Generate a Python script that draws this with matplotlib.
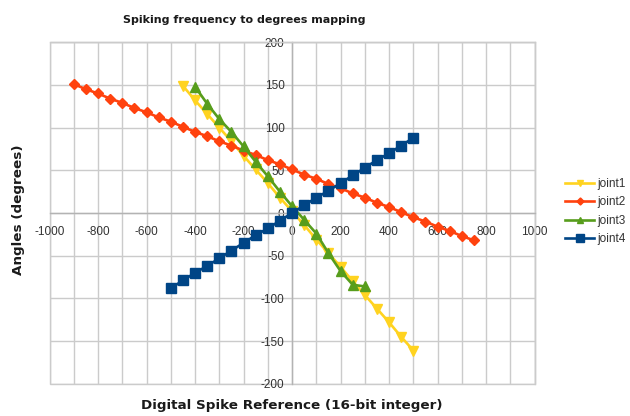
import matplotlib
matplotlib.use("Agg")
import matplotlib.pyplot as plt
from matplotlib.ticker import MultipleLocator

plt.rcParams["axes.unicode_minus"] = False
plt.rcParams["font.family"] = ["Liberation Sans", "DejaVu Sans"]

# Digital spike reference values for each joint
joint1_x = [-450, -400, -350, -300, -250, -200, -150, -100, -50, 0,
            50, 100, 150, 200, 250, 300, 350, 400, 450, 500]
joint1_y = [149, 132, 116, 100, 84, 67, 51, 35, 18, 2,
            -14, -31, -47, -63, -80, -96, -112, -128, -145, -161]

joint2_x = [-900, -850, -800, -750, -700, -650, -600, -550, -500, -450,
            -400, -350, -300, -250, -200, -150, -100, -50, 0, 50,
            100, 150, 200, 250, 300, 350, 400, 450, 500, 550,
            600, 650, 700, 750]
joint2_y = [151, 145, 140, 134, 129, 123, 118, 112, 107, 101,
            95, 90, 84, 79, 73, 68, 62, 57, 51, 45,
            40, 34, 29, 23, 18, 12, 7, 1, -5, -10,
            -16, -21, -27, -32]

joint3_x = [-400, -350, -300, -250, -200, -150, -100, -50, 0,
            50, 100, 150, 200, 250, 300]
joint3_y = [148, 128, 110, 95, 78, 60, 43, 25, 8,
            -8, -24, -47, -68, -84, -86]

joint4_x = [-500, -450, -400, -350, -300, -250, -200, -150, -100, -50, 0,
            50, 100, 150, 200, 250, 300, 350, 400, 450, 500]
joint4_y = [-88, -79, -70, -62, -53, -44, -35, -26, -18, -9, 0,
            9, 18, 26, 35, 44, 53, 62, 70, 79, 88]

x_ticks = [-1000, -800, -600, -400, -200, 0, 200, 400, 600, 800, 1000]
y_ticks = [-200, -150, -100, -50, 0, 50, 100, 150, 200]

series = [
    ("joint1", joint1_x, joint1_y, "#ffd320", "v", 7.5),
    ("joint2", joint2_x, joint2_y, "#ff420e", "D", 5.5),
    ("joint3", joint3_x, joint3_y, "#579d1c", "^", 7.5),
    ("joint4", joint4_x, joint4_y, "#004586", "s", 7.8),
]

fig = plt.figure(figsize=(6.3, 4.16), dpi=100)
ax = fig.add_axes([0.0786, 0.0774, 0.770, 0.821])

for name, xs, ys, color, marker, ms in series:
    ax.plot(xs, ys, color=color, marker=marker, markersize=ms,
            linewidth=1.9, label=name, zorder=3)

ax.set_xlim(-1000, 1000)
ax.set_ylim(-200, 200)
ax.set_xticks(x_ticks)
ax.set_yticks(y_ticks)
ax.xaxis.set_minor_locator(MultipleLocator(100))

grid_color = "#cbcbcb"
ax.grid(True, which="both", color=grid_color, linewidth=1.0, zorder=0)
ax.set_axisbelow(True)

# axes cross at the origin
ax.spines["left"].set_position(("data", 0))
ax.spines["bottom"].set_position(("data", 0))
for side in ("left", "bottom"):
    ax.spines[side].set_color("#b3b3b3")
    ax.spines[side].set_linewidth(1.0)
for side in ("top", "right"):
    ax.spines[side].set_color(grid_color)
    ax.spines[side].set_linewidth(1.0)
ax.patch.set_edgecolor(grid_color)
ax.patch.set_linewidth(1.0)

ax.tick_params(axis="both", which="both", length=0, labelsize=8.5,
               labelcolor="#333333")
ax.tick_params(axis="x", pad=9.5)
ax.tick_params(axis="y", pad=5.5)

fig.text(0.387, 0.952, "Spiking frequency to degrees mapping",
         ha="center", va="center", fontsize=8, fontweight="bold",
         family="DejaVu Sans", color="#1a1a1a")
fig.text(0.4635, 0.025, "Digital Spike Reference (16-bit integer)",
         ha="center", va="center", fontsize=9.7, fontweight="bold",
         family="DejaVu Sans", color="#1a1a1a")
fig.text(0.029, 0.495, "Angles (degrees)", rotation=90,
         ha="center", va="center", fontsize=9.7, fontweight="bold",
         family="DejaVu Sans", color="#1a1a1a")

ax.legend(loc="center left", bbox_to_anchor=(0.888, 0.4916),
          bbox_transform=fig.transFigure, frameon=False, fontsize=8.5,
          handlelength=2.4, handletextpad=0.3, labelspacing=0.55,
          markerscale=0.65, borderpad=0, labelcolor="#333333")

fig.savefig("out.png", dpi=100)
